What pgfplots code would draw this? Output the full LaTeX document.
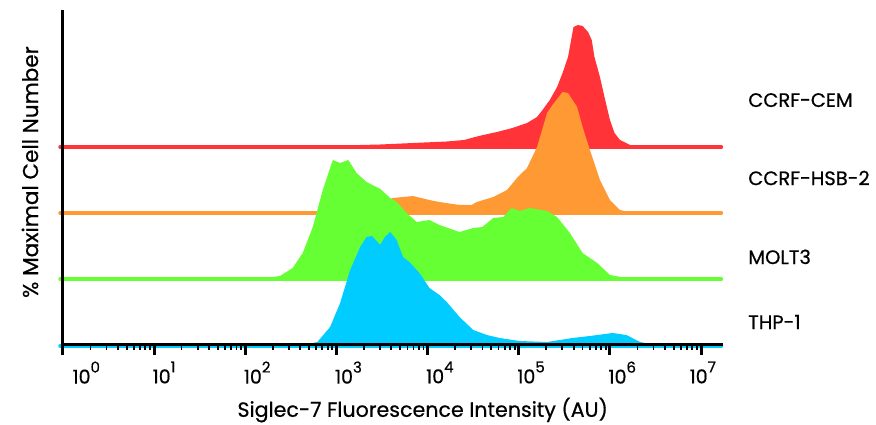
\documentclass[border=0pt]{standalone}
\usepackage{pgfplots}
\pgfplotsset{compat=1.18}
\usepackage{pgfplotstable}
\usepackage{fontspec}
\setmainfont{Poppins}[FakeBold=0.6]

\definecolor{cRed}{HTML}{FF3338}
\definecolor{cOrg}{HTML}{FF9933}
\definecolor{cGrn}{HTML}{66FF33}
\definecolor{cBlu}{HTML}{00CCFF}

% x = log10(intensity), h = height above the row's baseline
\pgfplotstableread{
d h
2.20 0
2.60 1
3.04 1.5
3.48 2.5
3.84 4
4.21 5.5
4.40 7
4.52 10
4.61 12
4.76 15
4.93 19
5.09 24
5.20 30
5.26 37
5.34 47
5.42 60
5.48 74
5.54 90
5.58 110
5.60 120
5.65 122
5.70 121
5.76 115
5.80 107
5.83 90
5.89 70
5.94 50
6.00 27
6.05 14
6.11 7
6.22 2
6.35 0
}\cem
\pgfplotstableread{
d h
2.40 0
2.55 1
2.80 2
3.00 4
3.30 9
3.50 12
3.62 15
3.84 17
4.02 13
4.13 11
4.35 8
4.48 8
4.54 11
4.72 16
4.87 23
4.98 35
5.09 45
5.20 66
5.31 100
5.37 108
5.48 121
5.54 120
5.64 106
5.70 86
5.78 63
5.89 33
6.00 13
6.11 3
6.25 0
}\hsb
\pgfplotstableread{
d h
2.10 0
2.22 1
2.38 3
2.52 11
2.63 26
2.74 52
2.85 89
2.96 119
3.04 116
3.13 119
3.22 106
3.33 97
3.48 90
3.59 81
3.66 77
3.77 66
3.88 57
4.02 59
4.13 54
4.35 47
4.50 51
4.60 52
4.72 61
4.83 62
4.92 71
5.01 68
5.12 71
5.31 68
5.42 62
5.56 46
5.70 26
5.86 16
6.00 4
6.18 1
6.35 0
}\molt
\pgfplotstableread{
d h
2.60 0
2.79 4
2.93 19
3.04 43
3.15 76
3.26 99
3.33 109
3.39 110
3.48 101
3.53 109
3.59 114
3.66 106
3.73 89
3.80 84
3.91 73
4.02 58
4.13 51
4.21 44
4.35 29
4.50 16
4.65 11
4.79 8
5.01 5
5.31 4
5.59 8
5.78 10
6.03 13
6.18 11
6.33 4
6.44 2
6.60 0
}\thp

\newcommand\dec[1]{\mbox{\fontsize{19}{19}\selectfont 10\raisebox{11pt}{\fontsize{15}{15}\selectfont #1}}}

\begin{document}
\begin{tikzpicture}
\useasboundingbox (-63pt,-80pt) rectangle (813pt,345pt);
\begin{axis}[
    scale only axis, width=660pt, height=335pt,
    xmin=0, xmax=7.24, ymin=0, ymax=335,
    clip=false, axis on top,
    axis x line=bottom, axis y line=left,
    axis line style={-, black, line width=3pt},
    ytick=\empty,
    xtick={0,1,2,3,4,5,6,7},
    xticklabels={\hspace{11pt}\dec{0},\dec{1},\dec{2},\dec{3},\dec{4},\dec{5},\dec{6},\hspace{-10pt}\dec{7}},
    minor xtick={0.301,0.477,0.602,0.699,0.778,0.845,0.903,0.954,
                 1.301,1.477,1.602,1.699,1.778,1.845,1.903,1.954,
                 2.301,2.477,2.602,2.699,2.778,2.845,2.903,2.954,
                 3.301,3.477,3.602,3.699,3.778,3.845,3.903,3.954,
                 4.301,4.477,4.602,4.699,4.778,4.845,4.903,4.954,
                 5.301,5.477,5.602,5.699,5.778,5.845,5.903,5.954,
                 6.301,6.477,6.602,6.699,6.778,6.845,6.903,6.954},
    tick align=outside,
    major tick length=10pt, minor tick length=5pt,
    major tick style={black, line width=3pt},
    minor tick style={black, line width=1.8pt},
    xticklabel style={anchor=north west, xshift=-5pt, yshift=-3pt},
]
% rows are drawn top to bottom, so each lower row covers the one above it
\addplot[fill=cRed, draw=none] table[x=d, y expr=\thisrow{h}+198] {\cem} -- cycle;
\addplot[cRed, line width=4pt, line cap=round] coordinates {(-0.03,198) (7.22,198)};
\addplot[fill=cOrg, draw=none] table[x=d, y expr=\thisrow{h}+132] {\hsb} -- cycle;
\addplot[cOrg, line width=4pt, line cap=round] coordinates {(-0.03,132) (7.22,132)};
\addplot[fill=cGrn, draw=none] table[x=d, y expr=\thisrow{h}+66] {\molt} -- cycle;
\addplot[cGrn, line width=4pt, line cap=round] coordinates {(-0.03,66) (7.22,66)};
\addplot[fill=cBlu, draw=none] table[x=d, y expr=\thisrow{h}-1] {\thp} -- cycle;
\addplot[cBlu, line width=4pt, line cap=round] coordinates {(-0.03,-1) (7.22,-1)};

\node[font=\fontsize{19.5}{19.5}\selectfont, anchor=west] at (axis description cs:1.033,0.731) {CCRF-CEM};
\node[font=\fontsize{19.5}{19.5}\selectfont, anchor=west] at (axis description cs:1.033,0.4985) {CCRF-HSB-2};
\node[font=\fontsize{19.5}{19.5}\selectfont, anchor=west] at (axis description cs:1.033,0.263) {MOLT3};
\node[font=\fontsize{19.5}{19.5}\selectfont, anchor=west] at (axis description cs:1.033,0.0687) {THP-1};
\node[font=\fontsize{21.5}{21.5}\selectfont, rotate=90] at (axis description cs:-0.05,0.516) {\% Maximal Cell Number};
\node[font=\fontsize{20.6}{20.6}\selectfont] at (axis description cs:0.545,-0.194) {Siglec-7 Fluorescence Intensity (AU)};
\end{axis}
\end{tikzpicture}
\end{document}
